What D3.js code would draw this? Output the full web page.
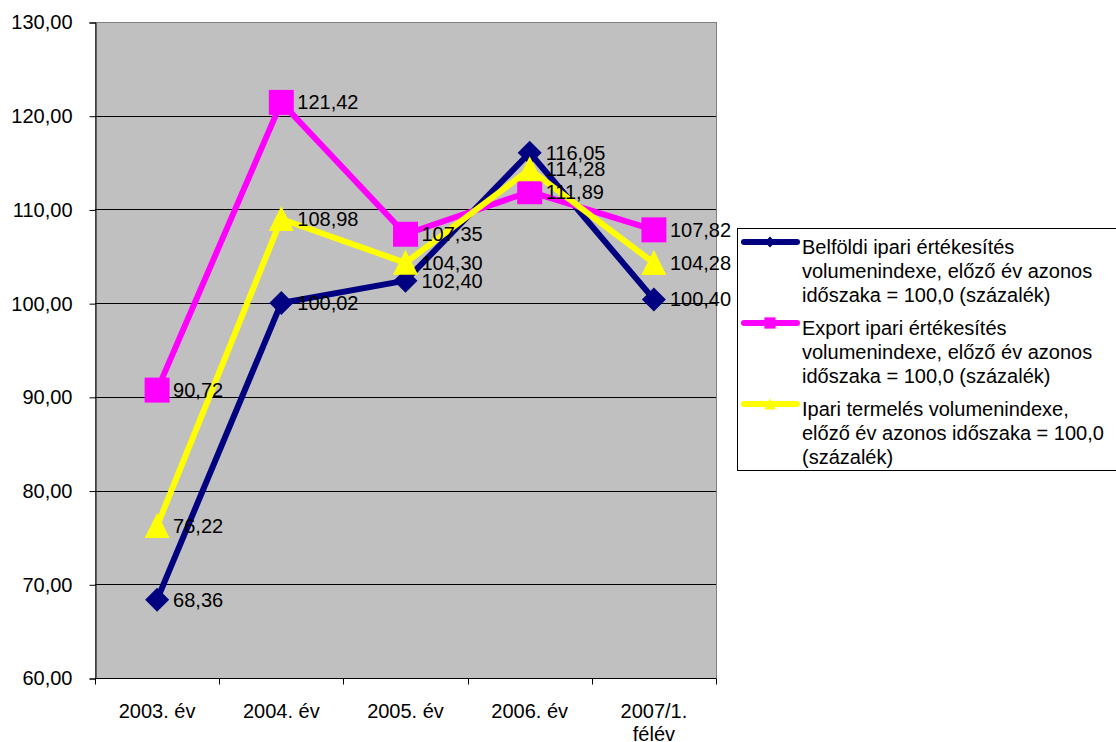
<!DOCTYPE html>
<html>
<head>
<meta charset="utf-8">
<script src="https://cdn.jsdelivr.net/npm/d3@7"></script>
<style>
  html, body { margin: 0; padding: 0; background: #fff; }
  svg { display: block; font-family: "Liberation Sans", Arial, sans-serif; }
</style>
</head>
<body>
<svg id="chart" width="1116" height="742"></svg>
<script>
// Volume indices, same period of previous year = 100
const categories = ["2003. év", "2004. év", "2005. év", "2006. év", "2007/1. félév"];
const belfoldi = [68.36, 100.02, 102.40, 116.05, 100.40];
const export_ = [90.72, 121.42, 107.35, 111.89, 107.82];
const ipari = [76.22, 108.98, 104.30, 114.28, 104.28];
const yTicks = [60, 70, 80, 90, 100, 110, 120, 130];

const seriesList = [
  { name: "Belföldi ipari értékesítés volumenindexe, előző év azonos időszaka = 100,0 (százalék)",
    lines: ["Belföldi ipari értékesítés", "volumenindexe, előző év azonos", "időszaka = 100,0 (százalék)"],
    values: belfoldi, color: "#000080", marker: "diamond" },
  { name: "Export ipari értékesítés volumenindexe, előző év azonos időszaka = 100,0 (százalék)",
    lines: ["Export ipari értékesítés", "volumenindexe, előző év azonos", "időszaka = 100,0 (százalék)"],
    values: export_, color: "#FF00FF", marker: "square" },
  { name: "Ipari termelés volumenindexe, előző év azonos időszaka = 100,0 (százalék)",
    lines: ["Ipari termelés volumenindexe,", "előző év azonos időszaka = 100,0", "(százalék)"],
    values: ipari, color: "#FFFF00", marker: "triangle" }
];

const fmt = v => v.toFixed(2).replace(".", ",");
const FS = 20;

const svg = d3.select("#chart");
const plot = { left: 95, right: 716, top: 22, bottom: 678 };

const x = d3.scaleBand().domain(categories).range([plot.left, plot.right]);
const y = d3.scaleLinear().domain([60, 130]).range([plot.bottom, plot.top]);
const cx = c => x(c) + x.bandwidth() / 2;

// plot background
svg.append("rect")
  .attr("x", plot.left + 0.5).attr("y", plot.top + 0.5)
  .attr("width", plot.right - plot.left).attr("height", plot.bottom - plot.top)
  .attr("fill", "#C0C0C0").attr("stroke", "#808080").attr("stroke-width", 1);

// gridlines
svg.append("g").selectAll("line").data(yTicks.slice(1, -1)).join("line")
  .attr("x1", plot.left).attr("x2", plot.right)
  .attr("y1", d => Math.round(y(d)) + 0.5).attr("y2", d => Math.round(y(d)) + 0.5)
  .attr("stroke", "#000").attr("stroke-width", 1);

// y axis
const yAxis = d3.axisLeft(y).tickValues(yTicks).tickSize(6).tickPadding(17).tickFormat(fmt);
const yg = svg.append("g").attr("transform", `translate(${plot.left + 0.5},0.5)`).call(yAxis);
yg.select(".domain").attr("stroke", "#000");
yg.selectAll("text").attr("font-size", FS).attr("fill", "#000")
  .attr("font-family", "Liberation Sans, Arial, sans-serif");

// x axis: ticks at category boundaries
const xg = svg.append("g").attr("transform", `translate(0,${plot.bottom + 0.5})`);
xg.append("line").attr("x1", plot.left).attr("x2", plot.right).attr("stroke", "#000");
const bounds = categories.map(c => x(c)).concat([plot.right]);
xg.selectAll("line.tick").data(bounds).join("line").attr("class", "tick")
  .attr("x1", d => Math.round(d) + 0.5).attr("x2", d => Math.round(d) + 0.5)
  .attr("y1", 0).attr("y2", 6).attr("stroke", "#000");
const xl = xg.selectAll("text").data(categories).join("text")
  .attr("x", d => cx(d)).attr("y", 39)
  .attr("text-anchor", "middle").attr("font-size", FS).attr("fill", "#000");
xl.each(function(d) {
  const t = d3.select(this);
  const parts = d === "2007/1. félév" ? ["2007/1.", "félév"] : [d];
  parts.forEach((p, i) => t.append("tspan").attr("x", cx(d)).attr("dy", i ? 23 : 0).text(p));
});

// marker shapes
function markerPath(type) {
  if (type === "diamond") return "M0,-12L12,0L0,12L-12,0Z";
  if (type === "square") return "M-12.5,-12.5H12.5V12.5H-12.5Z";
  return "M0,-13L12.5,12H-12.5Z";
}

const line = d3.line().x((d, i) => cx(categories[i])).y(d => y(d));

seriesList.forEach(s => {
  const g = svg.append("g");
  g.append("path").datum(s.values).attr("d", line)
    .attr("fill", "none").attr("stroke", s.color).attr("stroke-width", 6)
    .attr("stroke-linejoin", "round");
  g.selectAll("path.m").data(s.values).join("path").attr("class", "m")
    .attr("transform", (d, i) => `translate(${cx(categories[i])},${y(d)})`)
    .attr("d", markerPath(s.marker)).attr("fill", s.color);
});

// data labels
seriesList.forEach(s => {
  svg.append("g").selectAll("text").data(s.values).join("text")
    .attr("x", (d, i) => cx(categories[i]) + 16)
    .attr("y", d => y(d) + 7)
    .attr("font-size", FS).attr("fill", "#000")
    .text(d => fmt(d));
});

// legend
const lg = svg.append("g");
lg.append("rect").attr("x", 737.5).attr("y", 228.5).attr("width", 400).attr("height", 242)
  .attr("fill", "#fff").attr("stroke", "#000").attr("stroke-width", 1);
seriesList.forEach((s, i) => {
  const top = 242 + i * 81;
  lg.append("line").attr("x1", 744).attr("x2", 797).attr("y1", top).attr("y2", top)
    .attr("stroke", s.color).attr("stroke-width", 6).attr("stroke-linecap", "round");
  lg.append("path").attr("transform", `translate(770,${top}) scale(0.45)`)
    .attr("d", markerPath(s.marker)).attr("fill", s.color);
  s.lines.forEach((t, j) => {
    lg.append("text").attr("x", 802).attr("y", top + 12 + j * 24)
      .attr("font-size", FS).attr("fill", "#000").text(t);
  });
});
</script>
</body>
</html>
